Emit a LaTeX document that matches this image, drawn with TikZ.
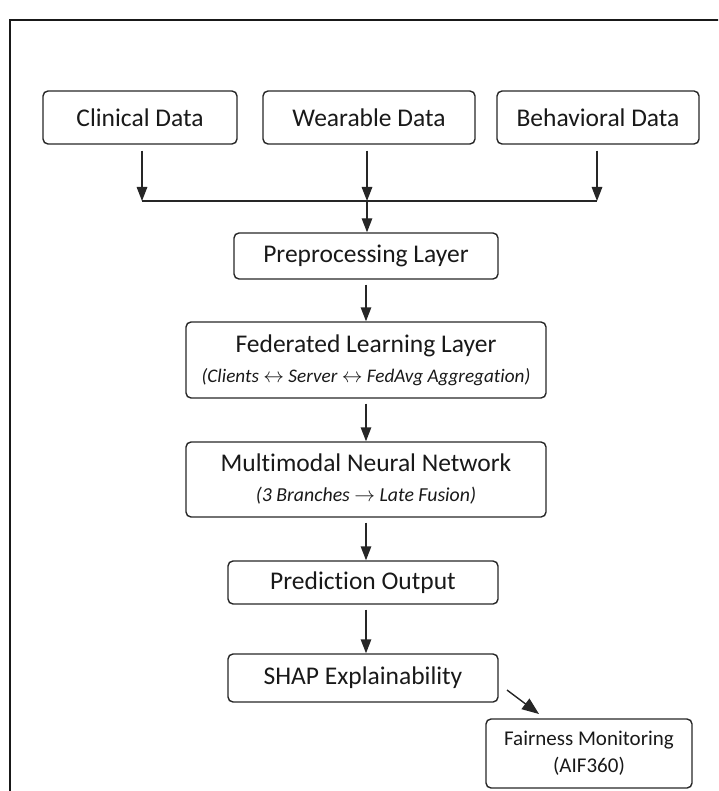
\documentclass[tikz,border=0pt]{standalone}
\usepackage{fontspec}
\setmainfont{Carlito}[Ligatures={NoCommon,NoRare}]
\usetikzlibrary{arrows.meta}
\begin{document}
\begin{tikzpicture}[x=1pt,y=-1pt,
  box/.style={draw=black!85, line width=1.4pt, rounded corners=5pt, inner sep=0pt, align=center, font=\fontsize{25.5}{30}\selectfont, text=black!90},
  subfont/.style={},
  flow/.style={-{Triangle[length=14pt,width=10.5pt]}, line width=1.4pt, draw=black!85},
  plain/.style={line width=1.4pt, draw=black!85}]
\useasboundingbox (0,0) rectangle (718,791);
\begin{scope}
\clip (0,0) rectangle (718,791);
\draw[line width=2pt, black!90] (10,900) -- (10,20) -- (800,20);
\end{scope}

\node[box, minimum width=194pt, minimum height=53pt] (clin) at (140,117.5) {Clinical Data};
\node[box, minimum width=212pt, minimum height=53pt] (wear) at (369,117.5) {Wearable Data};
\node[box, minimum width=202pt, minimum height=53pt] (behav) at (598,117.5) {Behavioral Data};

\node[box, minimum width=264pt, minimum height=46pt] (pre) at (366,256) {Preprocessing Layer};
\node[box, minimum width=360pt, minimum height=76pt] (fed) at (366,360) {Federated Learning Layer\\{\fontsize{19.2}{30}\selectfont\itshape (Clients $\leftrightarrow$ Server $\leftrightarrow$ FedAvg Aggregation)}};
\node[box, minimum width=360pt, minimum height=75pt] (mm) at (366,479.5) {Multimodal Neural Network\\{\fontsize{19.8}{29}\selectfont\itshape (3 Branches $\rightarrow$ Late Fusion)}};
\node[box, minimum width=270pt, minimum height=43pt] (pred) at (363,582.5) {Prediction Output};
\node[box, minimum width=270pt, minimum height=48pt] (shap) at (363,678) {SHAP Explainability};
\node[box, minimum width=206pt, minimum height=69pt, font=\fontsize{21}{27}\selectfont] (fair) at (589,753.5) {Fairness Monitoring\\(AIF360)};

\coordinate (j1) at (142,201);
\coordinate (j2) at (367,201);
\coordinate (j3) at (597,201);
\draw[flow, shorten <=6pt] (clin.south -| j1) -- (j1);
\draw[flow, shorten <=6pt] (wear.south -| j2) -- (j2);
\draw[flow, shorten <=6pt] (behav.south -| j3) -- (j3);
\draw[plain] (j1) -- (j3);
\draw[flow] (j2) -- (pre.north -| j2);
\draw[flow, shorten <=5pt] (pre.south) -- (fed.north);
\draw[flow, shorten <=5pt] (fed.south) -- (mm.north);
\draw[flow, shorten <=5pt] (mm.south) -- (mm.south |- pred.north);
\draw[flow, shorten <=5pt] (pred.south -| mm.south) -- (mm.south |- shap.north);
\coordinate (d1) at (507,690);
\coordinate (d2) at (539,714);
\draw[line width=1.4pt, draw=black!85, -{Triangle[length=17pt,width=13pt]}] (d1) -- (d2);
\end{tikzpicture}
\end{document}
